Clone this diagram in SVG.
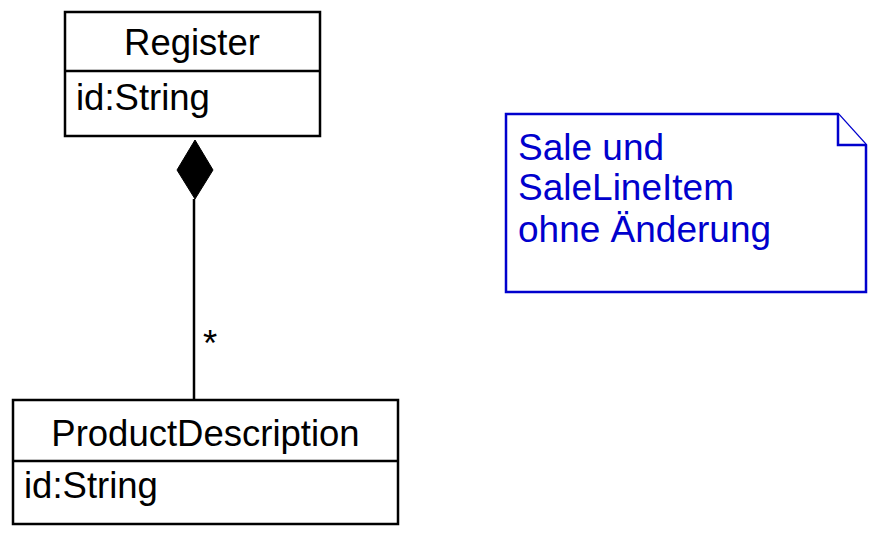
<svg xmlns="http://www.w3.org/2000/svg" width="878" height="533" viewBox="0 0 878 533">
<style>
.box{fill:#fff;stroke:#000;stroke-width:2.5}
.sep{stroke:#000;stroke-width:2.5}
.t{font-family:"Liberation Sans",Arial,sans-serif;font-size:36.5px;fill:#000}
.c{text-anchor:middle}
.note{fill:#fff;stroke:#0000CD;stroke-width:2.5;stroke-linejoin:miter}
.nt{font-family:"Liberation Sans",Arial,sans-serif;font-size:37px;fill:#0000CD}
</style>
<rect width="878" height="533" fill="#fff"/>
<g id="register">
<rect class="box" x="65" y="12" width="255" height="124"/>
<line class="sep" x1="65" y1="71" x2="320" y2="71"/>
<text class="t c" x="192" y="55">Register</text>
<text class="t" x="76" y="110">id:String</text>
</g>
<g id="productdescription">
<rect class="box" x="13" y="400" width="385" height="124"/>
<line class="sep" x1="13" y1="461" x2="398" y2="461"/>
<text class="t c" x="205.5" y="446">ProductDescription</text>
<text class="t" x="24" y="498">id:String</text>
</g>
<g id="note">
<path class="note" d="M506,114 L838,114 L866,145 L866,292 L506,292 Z"/>
<path class="note" d="M838,114 L838,145 L866,145" fill="none"/>
<text class="nt" x="518" y="160">Sale und</text>
<text class="nt" x="518" y="200">SaleLineItem</text>
<text class="nt" x="518" y="242">ohne Änderung</text>
</g>
<g id="connectors">
<line x1="194" y1="199" x2="194" y2="400" stroke="#000" stroke-width="2.5"/>
<polygon points="195,140 213,170 195,199 177,170" fill="#000" stroke="#000" stroke-width="1"/>
<text class="t" x="203" y="356" font-size="24px">*</text>
</g>
</svg>
